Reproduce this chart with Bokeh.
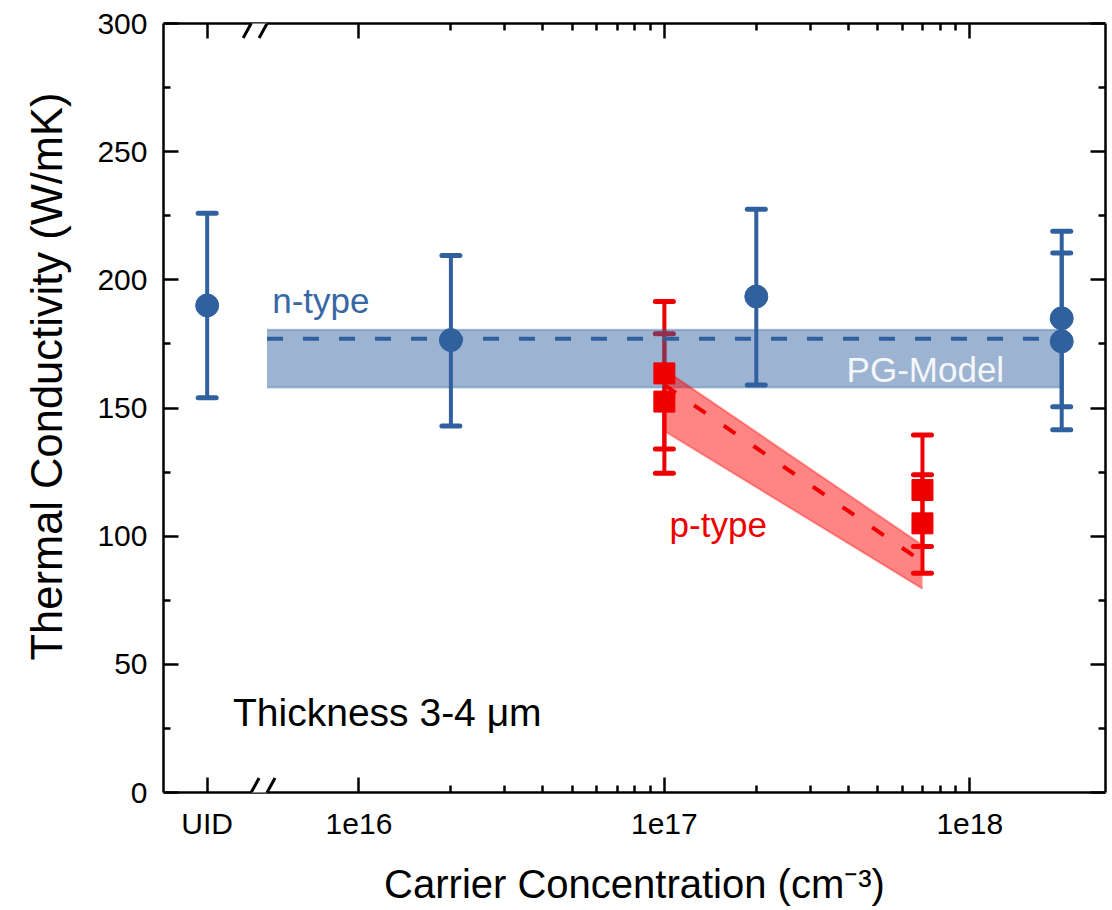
import math
from bokeh.plotting import figure
from bokeh.models import (FixedTicker, LogAxis, LinearAxis, Range1d, Label, Arrow, Title,
                          CustomLabelingPolicy)
from bokeh.embed import file_html
from bokeh.resources import INLINE

# ---------------- data ----------------
uid_pos = 10 ** 15.503          # axis position used for the UID (undoped) category
x_break = 10 ** 15.673          # position of the axis break

n_conc = [uid_pos, 2e16, 2e17, 2e18, 2e18]
n_k = [190.0, 176.5, 193.5, 185.0, 176.0]
n_lo = [154.0, 143.0, 159.0, 150.5, 141.5]
n_hi = [226.0, 209.5, 227.5, 219.0, 210.5]

p_conc = [1e17, 1e17, 7e17, 7e17]
p_k = [163.5, 152.5, 118.0, 105.0]
p_lo = [134.0, 124.5, 96.0, 85.5]
p_hi = [191.5, 179.0, 139.5, 124.0]

n_model_conc = [5e15, 2e18]
n_model_mid = [177.0, 177.0]
n_model_lo = [158.0, 158.0]
n_model_hi = [180.5, 180.5]

p_model_conc = [1e17, 7e17]
p_model_mid = [159.0, 90.0]
p_model_lo = [141.0, 79.5]
p_model_hi = [165.0, 96.5]

x_ticks = [uid_pos, 1e16, 1e17, 1e18]
x_tick_labels = ["UID", "1e16", "1e17", "1e18"]
x_minor_ticks = [m * 10 ** e for e in (16, 17) for m in range(2, 10)]
y_ticks = [0, 50, 100, 150, 200, 250, 300]
y_minor_ticks = [25, 75, 125, 175, 225, 275]

x_title = "Carrier Concentration (cm\u207b\u00b3)"
y_title = "Thermal Conductivity (W/mK)"

# ---------------- style ----------------
BLUE = "#30619E"
RED = "#EE0000"
FONT = "Liberation Sans"

W, H = 1111, 908
BL, BR, BT = 162, 3, 23
FH = 769
BB = H - BT - FH
FW = W - BL - BR

x_lo_log = 15.360
x_hi_log = 16 + (BL + FW - 358.3) / 306.7
p = figure(width=W, height=H, x_axis_type="log",
           x_range=Range1d(10 ** x_lo_log, 10 ** x_hi_log), y_range=Range1d(0, 300),
           output_backend="svg", toolbar_location=None,
           min_border_left=BL, min_border_right=BR, min_border_top=BT, min_border_bottom=BB)
p.outline_line_color = None
p.xgrid.visible = False
p.ygrid.visible = False
p.background_fill_color = "white"
p.border_fill_color = "white"

hide_labels = CustomLabelingPolicy(code="for (const i of indices) { indices.unset(i) }\nreturn indices")


def style_axis(ax, major_len, minor_len, labels=True):
    ax.axis_line_width = 2.5
    ax.axis_line_color = "black"
    ax.major_tick_line_width = 2.5
    ax.minor_tick_line_width = 2.5
    ax.major_tick_in = major_len
    ax.major_tick_out = 0
    ax.minor_tick_in = minor_len
    ax.minor_tick_out = 0
    ax.major_label_text_font = FONT
    ax.major_label_text_color = "black"
    ax.axis_label_text_font = FONT
    ax.axis_label_text_font_style = "normal"
    ax.axis_label_text_color = "black"
    if labels:
        ax.major_label_text_font_size = "30px"
    else:
        ax.major_label_text_font_size = "2px"
        ax.major_label_standoff = 0
        ax.major_label_policy = hide_labels


xt = FixedTicker(ticks=x_ticks, minor_ticks=x_minor_ticks)
yt = FixedTicker(ticks=y_ticks, minor_ticks=y_minor_ticks)

xb = p.xaxis[0]
xb.ticker = xt
xb.major_label_overrides = dict(zip(x_ticks, x_tick_labels))
style_axis(xb, 15, 7)
xb.major_label_standoff = 14
xb.axis_label = x_title
xb.axis_label_text_font_size = "40px"
xb.axis_label_standoff = 19

yl = p.yaxis[0]
yl.ticker = yt
style_axis(yl, 15, 7)
yl.major_label_standoff = 16

xtop = LogAxis(ticker=xt)
style_axis(xtop, 15, 7, labels=False)
p.add_layout(xtop, "above")

yr = LinearAxis(ticker=yt)
style_axis(yr, 15, 7, labels=False)
p.add_layout(yr, "right")

# y axis title, placed along the axis where the reference has it
p.add_layout(Title(text=y_title, text_font=FONT, text_font_size="43.5px", text_font_style="normal",
                   text_color="black", align="left", offset=132, vertical_align="top",
                   standoff=44), "left")

# ---------------- marks ----------------
# red error bars (under the blue band)
p.segment(x0=p_conc, y0=p_lo, x1=p_conc, y1=p_hi, line_color=RED, line_width=4)
p.scatter(x=p_conc + p_conc, y=p_lo + p_hi, marker="dash", size=18,
          line_color=RED, line_width=5, line_cap="round")

# n-type PG model band
p.varea(x=n_model_conc, y1=n_model_lo, y2=n_model_hi, fill_color=BLUE, fill_alpha=0.48)
p.line(x=n_model_conc, y=n_model_hi, line_color=BLUE, line_alpha=0.35, line_width=2)
p.line(x=n_model_conc, y=n_model_lo, line_color=BLUE, line_alpha=0.35, line_width=2)
p.line(x=n_model_conc, y=n_model_mid, line_color=BLUE, line_width=4, line_dash="16 20")

# p-type model band
p.varea(x=p_model_conc, y1=p_model_lo, y2=p_model_hi, fill_color="#FF0000", fill_alpha=0.48)
p.line(x=p_model_conc, y=p_model_hi, line_color="#FF0000", line_alpha=0.35, line_width=2)
p.line(x=p_model_conc, y=p_model_lo, line_color="#FF0000", line_alpha=0.35, line_width=2)
p.line(x=p_model_conc, y=p_model_mid, line_color=RED, line_width=4, line_dash="14 22")

# blue error bars and points
p.segment(x0=n_conc, y0=n_lo, x1=n_conc, y1=n_hi, line_color=BLUE, line_width=4)
p.scatter(x=n_conc + n_conc, y=n_lo + n_hi, marker="dash", size=18,
          line_color=BLUE, line_width=5, line_cap="round")
p.scatter(x=n_conc, y=n_k, marker="circle", size=23, fill_color=BLUE, line_color=BLUE)

# red squares
p.scatter(x=p_conc, y=p_k, marker="square", size=21, fill_color=RED, line_color=RED)

# ---------------- texts ----------------
p.add_layout(Label(x=5.2e15, y=191.8, text="n-type", text_font=FONT, text_font_size="35px",
                   text_color="#3768A5", text_align="left", text_baseline="alphabetic"))
p.add_layout(Label(x=3.95e17, y=165.0, text="PG-Model", text_font=FONT, text_font_size="35px",
                   text_color="#F4F6FA", text_align="left", text_baseline="alphabetic"))
p.add_layout(Label(x=1.04e17, y=104.5, text="p-type", text_font=FONT, text_font_size="35px",
                   text_color=RED, text_align="left", text_baseline="alphabetic"))
p.add_layout(Label(x=3.87e15, y=31.1, text="Thickness 3-4 \u03bcm", text_font=FONT,
                   text_font_size="39px", text_color="black", text_align="left",
                   text_baseline="alphabetic"))

# ---------------- axis break marks ----------------
dec_per_px = (x_hi_log - x_lo_log) / FW
val_per_px = 300.0 / FH
bx = math.log10(x_break)
for ybase in (300.0, 0.0):
    # white gap in the spine
    p.add_layout(Arrow(end=None, x_start=10 ** (bx - 8 * dec_per_px), y_start=ybase,
                       x_end=10 ** (bx + 8 * dec_per_px), y_end=ybase,
                       line_color="white", line_width=6))
    for off in (-8, 8):
        p.add_layout(Arrow(end=None,
                           x_start=10 ** (bx + (off - 8) * dec_per_px), y_start=ybase - 14.5 * val_per_px,
                           x_end=10 ** (bx + (off + 8) * dec_per_px), y_end=ybase + 14.5 * val_per_px,
                           line_color="black", line_width=3))

open("out.html", "w").write(file_html(p, INLINE))
